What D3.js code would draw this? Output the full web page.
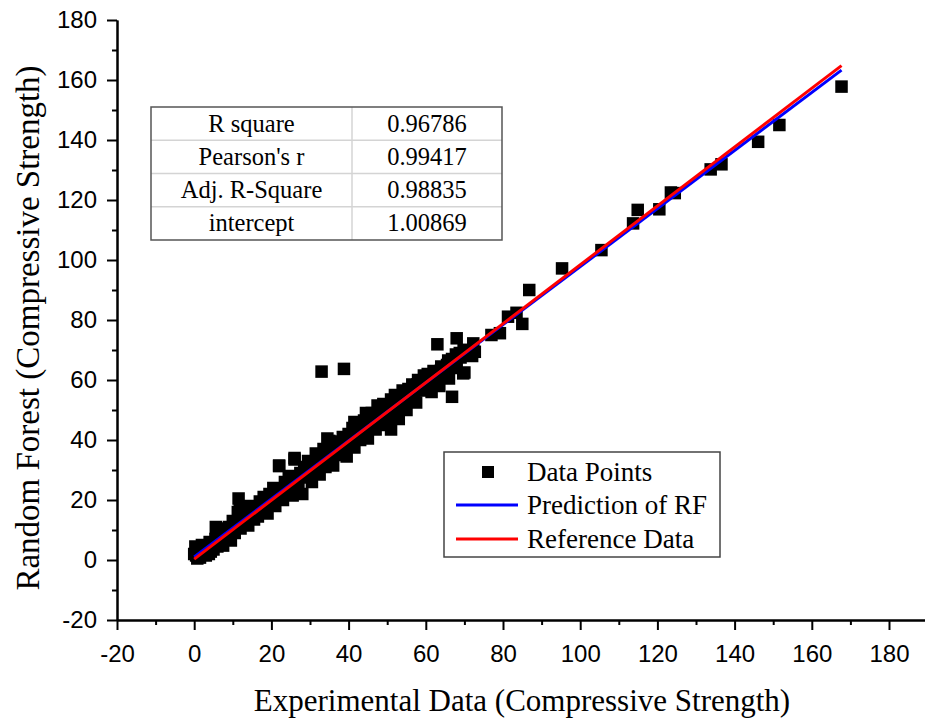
<!DOCTYPE html>
<html>
<head>
<meta charset="utf-8">
<script src="https://cdn.jsdelivr.net/npm/d3@7"></script>
<style>
  body { margin: 0; background: #fff; }
  svg { display: block; }
</style>
</head>
<body>
<svg id="chart" width="925" height="721"></svg>
<script>
// --- data (experimental vs random forest predicted strength) ---
const pointsBand = [
  [0,2],[0.3,4.5],[0.5,1.5],[1,3],[1.5,0.8],[2,5],[2.2,2.5],[3,1.5],[3.5,4],[4,6],
  [4.3,2.8],[5,3.5],[5.5,7],[5.6,11],[6,4.5],[6.5,10.5],[7,6],[7.5,4.8],[8,9],[8.5,7],
  [9,11],[9.5,6.5],[10,13],[10.5,9],[11.5,20.5],[11.3,16],[11.8,18],[12,10.5],[12.5,14],[13,12],
  [13.5,16.5],[14,11.5],[14.5,15],[15,18],[15.5,13.5],[16,17],[16.5,14.5],[17,19.5],[17.5,16],[18,21],
  [18.5,17.5],[19,15.5],[19.5,22],[20,19],[20.5,24],[21,18],[21.5,21],[22,31.5],[22.5,23],[23,20],
  [23.5,26],[24,22.5],[24.5,28],[25,24],[25.5,21.5],[26,33.5],[26.5,27],[27,24.5],[27.5,29],[28,22],
  [28.5,31],[29,27.5],[29.5,33],[30,28],[30.5,26],[31,32],[31.5,35.5],[32,30],[32.5,28.5],[33,34],
  [33.5,37],[34,31],[34.5,40.5],[35,33.5],[35.5,36],[36,31.5],[36.5,38],[37,35],[37.5,39.5],[38,36],
  [38.5,41],[39,37.5],[39.5,34.5],[40,42],[40.5,39],[41,44],[41.5,37.5],[42,41],[42.5,45],[43,40],
  [43.5,43],[44,46.5],[44.5,42],[45,47],[45.5,44],[46,49],[46.5,45.5],[47,43.5],[47.5,48],[48,50.5],
  [48.5,46.5],[49,52],[49.5,48],[50,45],[50.5,50],[51,53.5],[51.5,48.5],[52,55],[52.5,51],[53,47],
  [53.5,53],[54,56.5],[54.5,52],[55,50],[55.5,57],[56,54],[56.5,58.5],[57,55],[57.5,52.5],[58,60],
  [58.5,56.5],[59,58],[59.5,61.5],[60,57],[60.5,62],[61,59.5],[61.5,56],[62,63],[63,60],[63.5,58],
  [64,64.5],[65,62],[65.5,65],[66,60.5],[67,66],[68,64],[69,67.5],[70,62.5],[71,70],[72,68]
];
const pointsCore = [
  [0.8,0.5],[1.8,2],[2.8,3.2],[3.8,2],[4.8,5.5],[5.8,5],[6.8,8],[7.8,7.5],[8.8,8.5],[9.8,10],
  [10.8,11.5],[11.8,12.5],[12.8,13],[13.8,14.5],[14.8,14],[15.8,16],[16.8,17],[17.8,18.5],[18.8,19],[19.8,20],
  [20.8,21.5],[21.8,22],[22.8,23.5],[23.8,24],[24.8,25],[25.8,26.5],[26.8,27],[27.8,28.5],[28.8,29],[29.8,30.5],
  [30.8,31],[31.8,32.5],[32.8,33],[33.8,34],[34.8,35.5],[35.8,36],[36.8,37.5],[37.8,38],[38.8,39],[39.8,40.5],
  [40.8,41],[41.8,42.5],[42.8,43],[43.8,44],[44.8,45.5],[45.8,46],[46.8,47.5],[47.8,48],[48.8,49],[49.8,50.5],
  [50.8,51],[51.8,52.5],[52.8,53],[53.8,54],[54.8,55.5],[55.8,56],[56.8,57],[57.8,58.5],[58.8,59],[59.8,60],
  [60.8,61.5],[61.8,61],[62.8,62.5],[63.8,63],[64.8,64],[65.8,66.5],[66.8,67],[67.8,68.5],[68.8,69],[69.8,70],
  [26,34],[35,39.7],[22,31.3],[44.5,49],[47.5,51.5],[41.5,46],[51,43.5],[45,40.5]
];
const pointsSparse = [
  [33,62.8],[38.8,63.7],[63,71.9],[68,73.9],[72.3,72.2],[66.8,54.4],[69.7,62.2],
  [72.7,69.4],[77,75],[79.2,75.6],[81.3,81.1],[83.5,82.4],[85,78.7],[86.8,90],
  [95.3,97.2],[105.5,103.3],[113.7,112.2],[114.9,116.7],[120.5,116.9],[123.5,122.5],
  [124.5,122.3],[133.8,130.2],[136.6,131.9],[146.1,139.4],[151.6,145],[167.7,157.8]
];
// fitted lines, endpoints
const lineRF = [[0, 1.0], [167.7, 163.3]];
const lineRef = [[0, 0.3], [167.7, 164.8]];

const statLabels = ['R square', "Pearson's r", 'Adj. R-Square', 'intercept'];
const statValues = ['0.96786', '0.99417', '0.98835', '1.00869'];

const legendLabels = ['Data Points', 'Prediction of RF', 'Reference Data'];

const xTicks = [-20, 0, 20, 40, 60, 80, 100, 120, 140, 160, 180];
const yTicks = [-20, 0, 20, 40, 60, 80, 100, 120, 140, 160, 180];

// --- scales ---
const svg = d3.select('#chart');
const x = d3.scaleLinear().domain([-20, 190]).range([117, 927.6]);
const y = d3.scaleLinear().domain([-20, 180]).range([620, 20]);

const serif = '"Liberation Serif", "Times New Roman", serif';
const sans = '"Liberation Sans", Arial, sans-serif';

// --- axes ---
function styleAxis(g) {
  g.select('.domain').attr('stroke', '#000').attr('stroke-width', 2);
  g.selectAll('.tick line').attr('stroke', '#000').attr('stroke-width', 2);
  g.selectAll('.tick text').attr('font-family', sans).attr('font-size', 24).attr('fill', '#000');
}

const xMinor = d3.range(-10, 190, 20);
const yMinor = d3.range(-10, 180, 20);
const plain = d => String(d);

svg.append('g')
  .attr('transform', `translate(0,${y(-20)})`)
  .call(d3.axisBottom(x).tickValues(xMinor).tickSize(5).tickSizeOuter(0).tickFormat(''))
  .call(styleAxis);
svg.append('g')
  .attr('transform', `translate(0,${y(-20)})`)
  .call(d3.axisBottom(x).tickValues(xTicks).tickSize(10).tickSizeOuter(0).tickPadding(15).tickFormat(plain))
  .call(styleAxis);

svg.append('g')
  .attr('transform', `translate(${x(-20)},0)`)
  .call(d3.axisLeft(y).tickValues(yMinor).tickSize(5).tickSizeOuter(0).tickFormat(''))
  .call(styleAxis);
svg.append('g')
  .attr('transform', `translate(${x(-20)},0)`)
  .call(d3.axisLeft(y).tickValues(yTicks).tickSize(10).tickSizeOuter(0).tickPadding(10).tickFormat(plain))
  .call(styleAxis);

// axis titles
svg.append('text')
  .attr('x', 522).attr('y', 711)
  .attr('text-anchor', 'middle')
  .attr('font-family', serif).attr('font-size', 31)
  .text('Experimental Data (Compressive Strength)');
svg.append('text')
  .attr('transform', `translate(39,328) rotate(-90)`)
  .attr('text-anchor', 'middle')
  .attr('font-family', serif).attr('font-size', 33)
  .text('Random Forest (Compressive Strength)');

// --- scatter ---
const allPoints = pointsBand.concat(pointsCore, pointsSparse);
const sq = 12.5;
svg.append('g').selectAll('rect')
  .data(allPoints)
  .join('rect')
  .attr('x', d => x(d[0]) - sq / 2)
  .attr('y', d => y(d[1]) - sq / 2)
  .attr('width', sq).attr('height', sq)
  .attr('fill', '#000');

// --- fit lines ---
const line = d3.line().x(d => x(d[0])).y(d => y(d[1]));
svg.append('path').datum(lineRF)
  .attr('d', line).attr('fill', 'none')
  .attr('stroke', '#0000ff').attr('stroke-width', 3);
svg.append('path').datum(lineRef)
  .attr('d', line).attr('fill', 'none')
  .attr('stroke', '#ff0000').attr('stroke-width', 3);

// --- stats table ---
const tbl = { left: 151, right: 502, mid: 352, top: 107, rowH: 33.25 };
const table = svg.append('g');
table.append('rect')
  .attr('x', tbl.left).attr('y', tbl.top)
  .attr('width', tbl.right - tbl.left).attr('height', tbl.rowH * statLabels.length)
  .attr('fill', '#fff');
statLabels.forEach((lab, i) => {
  if (i > 0) {
    table.append('line')
      .attr('x1', tbl.left).attr('x2', tbl.right)
      .attr('y1', tbl.top + i * tbl.rowH).attr('y2', tbl.top + i * tbl.rowH)
      .attr('stroke', '#d4d4d4').attr('stroke-width', 1.5);
  }
  const cy = tbl.top + i * tbl.rowH + tbl.rowH / 2 + 8;
  table.append('text')
    .attr('x', (tbl.left + tbl.mid) / 2).attr('y', cy)
    .attr('text-anchor', 'middle')
    .attr('font-family', serif).attr('font-size', 24.5)
    .text(lab);
  table.append('text')
    .attr('x', (tbl.mid + tbl.right) / 2).attr('y', cy)
    .attr('text-anchor', 'middle')
    .attr('font-family', serif).attr('font-size', 24.5)
    .text(statValues[i]);
});
table.append('line')
  .attr('x1', tbl.mid).attr('x2', tbl.mid)
  .attr('y1', tbl.top).attr('y2', tbl.top + tbl.rowH * statLabels.length)
  .attr('stroke', '#d4d4d4').attr('stroke-width', 1.5);
table.append('rect')
  .attr('x', tbl.left).attr('y', tbl.top)
  .attr('width', tbl.right - tbl.left).attr('height', tbl.rowH * statLabels.length)
  .attr('fill', 'none').attr('stroke', '#555').attr('stroke-width', 1.5);

// --- legend ---
const legend = svg.append('g');
legend.append('rect')
  .attr('x', 444).attr('y', 452).attr('width', 276).attr('height', 105)
  .attr('fill', '#fff').attr('stroke', '#444').attr('stroke-width', 1.5);
const legendY = [472, 505, 539];
legend.append('rect')
  .attr('x', 488 - 6).attr('y', legendY[0] - 6)
  .attr('width', 12).attr('height', 12).attr('fill', '#000');
legend.append('line')
  .attr('x1', 456).attr('x2', 518).attr('y1', legendY[1]).attr('y2', legendY[1])
  .attr('stroke', '#0000ff').attr('stroke-width', 3);
legend.append('line')
  .attr('x1', 456).attr('x2', 518).attr('y1', legendY[2]).attr('y2', legendY[2])
  .attr('stroke', '#ff0000').attr('stroke-width', 3);
legendLabels.forEach((lab, i) => {
  legend.append('text')
    .attr('x', 527).attr('y', legendY[i] + 9)
    .attr('font-family', serif).attr('font-size', 27)
    .text(lab);
});
</script>
</body>
</html>
